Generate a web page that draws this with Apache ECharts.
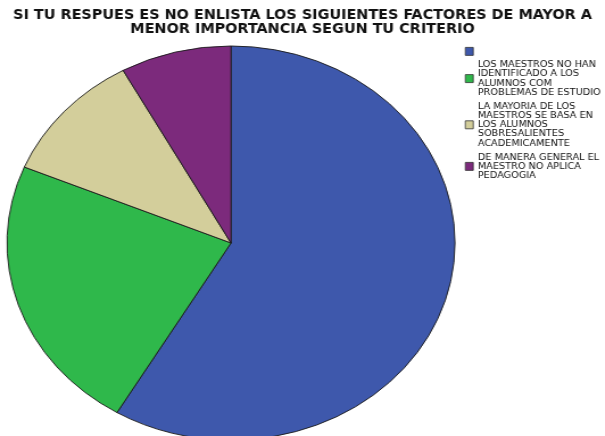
<!DOCTYPE html>
<html>
<head>
<meta charset="utf-8">
<script src="https://cdn.jsdelivr.net/npm/echarts@6/dist/echarts.min.js"></script>
<style>
html,body{margin:0;padding:0;background:#fff;width:605px;height:436px;overflow:hidden;}
#chart{position:absolute;left:0;top:0;width:532px;height:436px;transform-origin:0 0;transform:scaleX(1.1371);}
</style>
</head>
<body>
<div id="chart"></div>
<script>
const titleText = 'SI TU RESPUES ES NO ENLISTA LOS SIGUIENTES FACTORES DE MAYOR A\nMENOR IMPORTANCIA SEGUN TU CRITERIO';
const categories = ['(vacío)', 'LOS MAESTROS NO HAN IDENTIFICADO A LOS ALUMNOS COM PROBLEMAS DE ESTUDIO', 'LA MAYORIA DE LOS MAESTROS SE BASA EN LOS ALUMNOS SOBRESALIENTES ACADEMICAMENTE', 'DE MANERA GENERAL EL MAESTRO NO APLICA PEDAGOGIA'];
const legendLabels = ['', 'LOS MAESTROS NO HAN\nIDENTIFICADO A LOS\nALUMNOS COM\nPROBLEMAS DE ESTUDIO', 'LA MAYORIA DE LOS\nMAESTROS SE BASA EN\nLOS ALUMNOS\nSOBRESALIENTES\nACADEMICAMENTE', 'DE MANERA GENERAL EL\nMAESTRO NO APLICA\nPEDAGOGIA'];
const values = [58.5, 22.8, 10.7, 8.0];
const colors = ['#3e58ac', '#2fb84b', '#d3ce9b', '#7c2a7c'];

const data = categories.map((c, i) => ({name: c, value: values[i], itemStyle: {color: colors[i]}}));

const chart = echarts.init(document.getElementById('chart'), null, {renderer: 'canvas'});
chart.setOption({
  animation: false,
  title: {
    text: titleText,
    left: 'center',
    top: 9,
    padding: 0,
    textStyle: {fontFamily: 'DejaVu Sans Condensed', fontWeight: 'bold', fontSize: 14.1, lineHeight: 13.5, color: '#111'}
  },
  legend: {
    orient: 'vertical',
    left: 408.8,
    top: 47,
    padding: 0,
    itemWidth: 7,
    itemHeight: 8,
    itemGap: 4,
    icon: 'rect',
    selectedMode: false,
    formatter: function (name) { return legendLabels[categories.indexOf(name)]; },
    textStyle: {fontFamily: 'DejaVu Sans Condensed', fontSize: 9.5, lineHeight: 9.2, color: '#111', padding: [0, 0, 0, -1]},
    itemStyle: {borderColor: '#333', borderWidth: 0.8},
    data: categories
  },
  series: [{
    type: 'pie',
    center: [203.15, 243],
    radius: 197,
    startAngle: 90,
    clockwise: true,
    label: {show: false},
    labelLine: {show: false},
    emphasis: {disabled: true},
    itemStyle: {borderColor: '#1a1a1a', borderWidth: 0.9},
    data: data
  }]
});
</script>
</body>
</html>
